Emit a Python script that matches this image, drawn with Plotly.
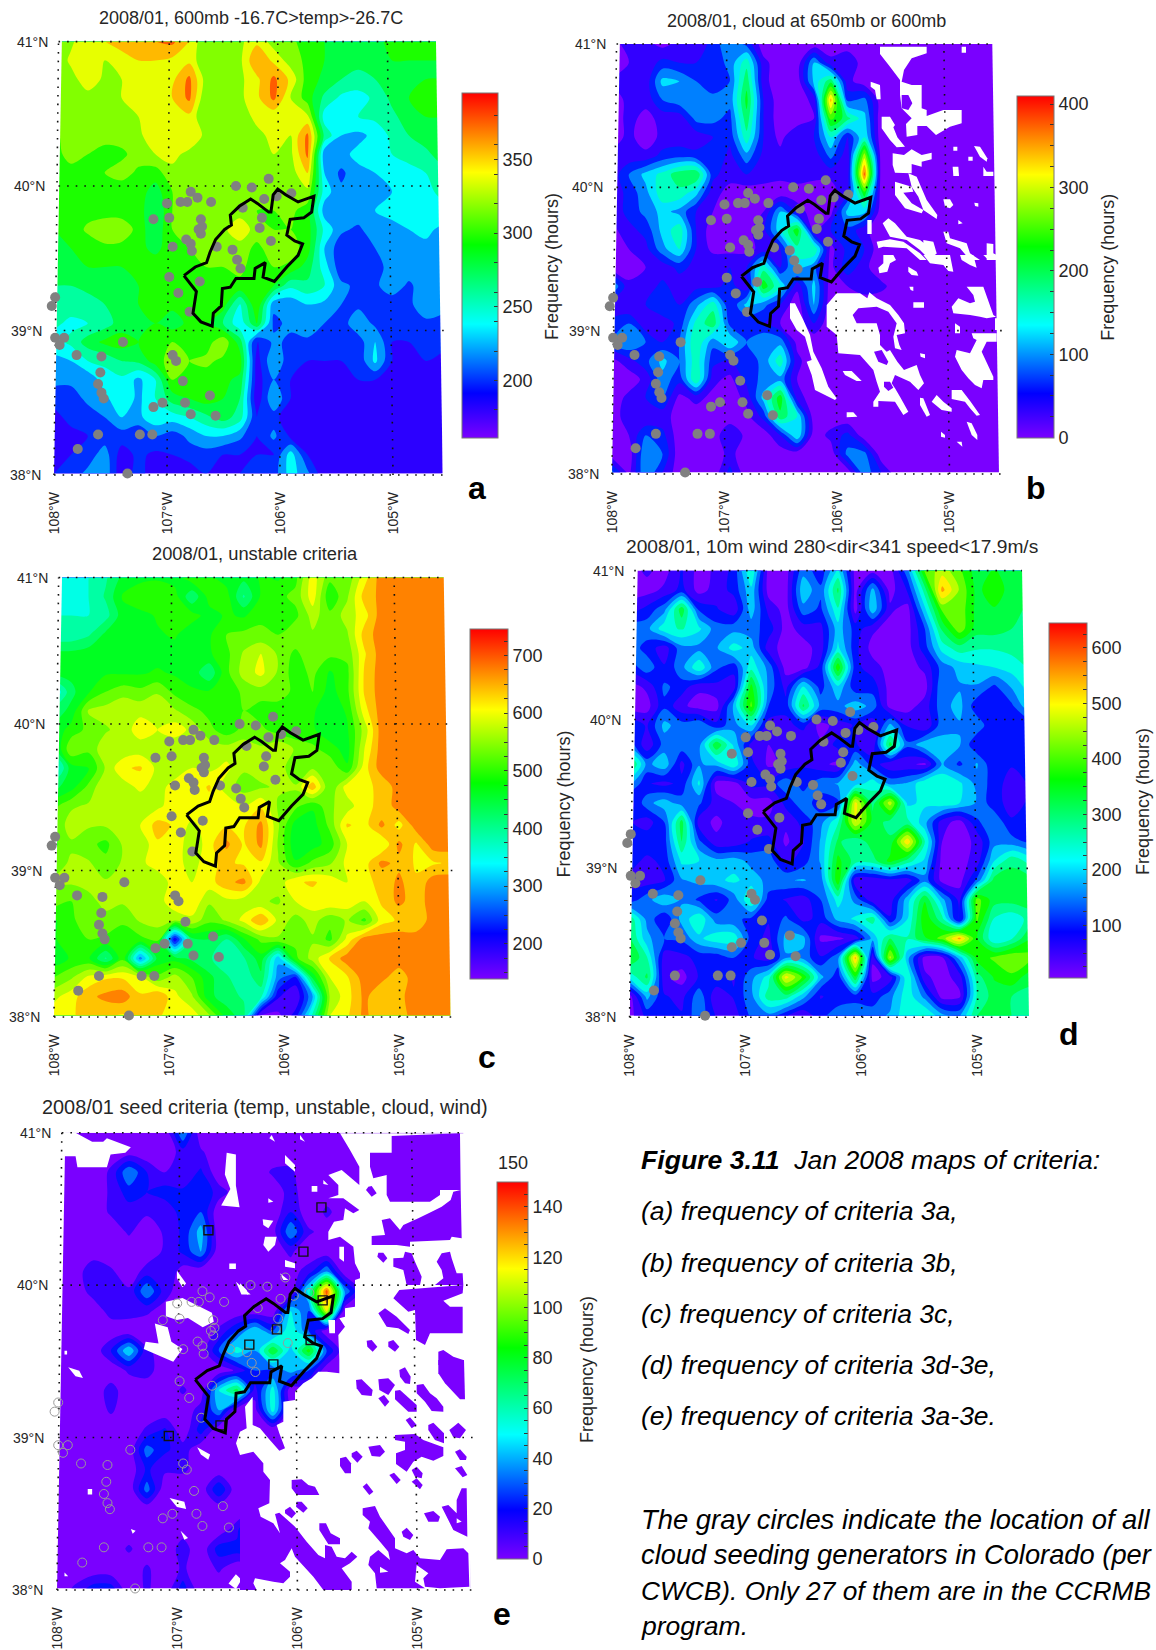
import numpy as np
import plotly.graph_objects as go

_ = 5   # cells with next to no hours; the white gaps are drawn from the patch lists below
FONT = "Liberation Sans"
W, H = 1156, 1650

# Generator sites (pseudo lon / lat)
GEN_LON = [-106.10,-106.39,-106.25,-106.79,-106.73,-106.61,-106.88,-106.82,-107.00,-106.14,-106.03,-105.90,-106.33,-106.16,-106.98,-107.12,-106.70,-106.69,-106.72,-106.70,-106.18,-106.08,-106.83,-106.79,-106.78,-106.95,-106.56,-106.42,-106.38,-106.35,-106.98,-106.71,-106.90,-106.80,-107.99,-108.02,-107.99,-107.91,-107.95,-107.39,-107.80,-107.58,-106.95,-106.92,-107.59,-106.86,-107.61,-107.58,-107.56,-106.62,-107.04,-107.12,-106.84,-106.79,-106.57,-107.61,-107.24,-107.13,-107.79,-107.35]
GEN_LAT = [40.05,40.00,39.99,39.96,39.92,39.89,39.89,39.89,39.88,39.91,39.93,39.95,39.85,39.78,39.78,39.77,39.77,39.72,39.70,39.67,39.71,39.62,39.63,39.60,39.55,39.58,39.58,39.56,39.49,39.43,39.37,39.34,39.26,39.13,39.23,39.17,38.95,38.95,38.90,38.92,38.83,38.82,38.83,38.79,38.71,38.65,38.63,38.57,38.53,38.55,38.50,38.47,38.50,38.42,38.41,38.28,38.28,38.28,38.18,38.01]

# Target-area outline
AREA_LON = [-106.85,-106.75,-106.65,-106.62,-106.57,-106.49,-106.43,-106.44,-106.36,-106.26,-106.20,-106.10,-106.08,-106.06,-106.02,-105.95,-105.84,-105.70,-105.72,-105.79,-105.91,-105.94,-105.87,-105.80,-105.84,-105.94,-106.05,-106.15,-106.13,-106.22,-106.23,-106.39,-106.44,-106.51,-106.52,-106.59,-106.60,-106.70,-106.77,-106.74,-106.85]
AREA_LAT = [39.38,39.44,39.47,39.54,39.63,39.70,39.73,39.80,39.86,39.91,39.88,39.82,39.82,39.94,39.98,39.94,39.89,39.93,39.82,39.78,39.77,39.66,39.62,39.60,39.52,39.44,39.34,39.37,39.47,39.43,39.36,39.36,39.30,39.29,39.17,39.12,39.03,39.06,39.12,39.27,39.38]

# Black squares in panel e
SQ_LON = [-105.80,-106.74,-105.95,-105.79,-106.17,-106.40,-105.89,-106.20,-106.64,-107.07]
SQ_LAT = [40.51,40.36,40.22,39.90,39.71,39.61,39.64,39.48,39.08,39.01]

# Grid end points
LON_TICKS = [-108,-107,-106,-105]
LON_TOP = [-107.96,-106.98,-106.02,-105.05]
LON_TEXT = ["108°W","107°W","106°W","105°W"]
LAT_TICKS = [38,39,40,41]
LAT_TEXT = ["38°N","39°N","40°N","41°N"]
LAT_LEFT = [-108.0,-107.99,-107.96,-107.96]
LAT_RIGHT = [-104.54,-104.52,-104.57,-104.62]
LAT_LABEL_LON = [-108.10,-108.09,-108.06,-108.035]

GRID_A = [
[310,325,350,350,355,365,370,375,350,310,320,325,345,320,315,300,290,290,275,285,295,295,295,295],
[310,335,345,330,345,350,350,345,345,310,325,325,370,345,320,305,290,285,275,280,290,290,290,290],
[310,320,345,325,330,345,345,345,375,320,325,325,345,375,345,300,285,270,265,270,285,290,290,290],
[310,320,320,325,330,345,345,350,375,310,325,325,345,375,330,300,265,245,240,255,275,290,295,295],
[310,320,320,320,320,330,345,345,345,310,320,320,335,335,350,335,240,250,250,255,265,280,290,290],
[305,320,320,320,320,325,345,345,345,325,325,325,325,335,330,375,265,230,225,235,255,270,280,285],
[300,320,310,300,305,320,330,335,325,325,325,325,325,330,325,375,215,225,235,245,250,255,265,280],
[295,300,305,310,320,305,300,325,325,325,320,320,320,320,320,350,230,205,225,230,240,245,250,265],
[295,295,295,295,295,300,280,310,325,320,320,320,320,325,320,325,240,215,215,225,230,235,245,255],
[295,295,300,300,295,300,270,310,320,320,320,320,310,310,315,300,220,215,225,230,235,240,245,245],
[290,295,315,325,330,300,275,310,320,310,325,345,320,310,310,300,245,215,205,225,225,230,235,225],
[285,290,295,305,300,295,285,300,310,315,320,320,305,320,320,300,230,195,210,210,225,225,225,225],
[280,285,290,290,290,295,300,300,310,310,310,315,300,310,305,280,240,195,205,200,220,225,225,225],
[270,270,280,290,285,290,305,295,300,300,300,305,310,290,255,265,250,215,205,205,225,205,225,225],
[270,260,255,270,285,290,300,295,295,300,300,245,310,215,215,230,225,210,205,205,195,205,225,215],
[255,245,250,260,280,285,290,280,295,295,270,235,290,205,215,225,210,200,225,205,205,205,205,205],
[240,255,280,295,300,290,300,310,300,300,325,280,185,215,205,205,205,200,200,230,190,190,195,195],
[225,230,250,255,270,275,300,320,310,315,305,300,180,230,195,190,190,190,195,235,190,190,190,185],
[215,215,215,240,245,225,250,310,300,300,295,285,180,210,190,190,180,190,190,190,170,180,185,185],
[200,200,215,225,245,225,250,280,290,300,290,270,175,230,190,180,170,175,185,185,185,180,180,180],
[180,200,200,210,230,225,245,240,250,265,280,260,190,200,170,175,170,190,175,185,185,180,180,180],
[170,180,190,200,200,190,210,200,215,230,230,215,190,215,185,170,175,180,180,170,180,180,180,180],
[180,190,200,220,180,195,185,190,200,200,190,190,190,190,240,190,170,180,180,180,170,180,180,180],
[190,200,215,225,175,200,175,190,175,190,190,190,195,200,240,215,175,180,180,180,175,180,180,180],
]

GRID_B = [
[20,40,40,20,40,40,70,120,80,10,10,10,10,10,10,10,_,_,_,10,10,10,10,10],
[30,30,40,70,60,60,70,100,170,40,10,10,120,40,60,10,_,_,10,10,10,10,10,10],
[30,40,40,130,120,90,70,90,200,40,10,10,130,200,40,10,_,10,_,10,10,10,10,10],
[10,40,40,90,110,110,100,100,220,60,10,10,40,340,80,100,10,_,_,10,10,10,10,10],
[10,40,20,40,40,100,100,80,200,60,10,10,30,250,190,130,_,10,_,_,_,10,10,10],
[10,40,10,40,40,40,60,70,170,60,20,60,60,150,60,150,_,_,_,10,10,10,10,10],
[40,40,40,70,80,70,90,50,110,50,40,60,40,100,40,290,10,_,_,10,10,10,_,10],
[40,90,130,160,200,210,70,40,60,40,40,50,40,40,40,370,10,_,_,10,_,10,_,_],
[40,70,110,170,170,130,40,20,10,20,10,10,10,10,60,230,10,10,_,_,10,_,10,10],
[40,70,100,130,110,60,30,20,20,30,120,50,10,20,130,130,10,_,_,_,10,10,10,10],
[20,50,70,130,170,60,10,10,20,50,140,230,30,60,80,40,_,_,_,_,_,10,10,10],
[10,30,50,110,150,60,20,20,20,40,60,170,180,20,70,60,_,10,_,_,_,_,_,10],
[20,10,30,40,70,50,60,60,60,170,60,130,100,20,80,40,_,10,10,10,_,_,10,10],
[120,40,40,70,40,50,50,70,40,230,150,40,130,10,30,50,40,10,10,10,10,10,_,10],
[40,30,60,90,60,110,170,60,130,100,60,_,120,_,_,_,_,10,_,10,10,_,_,10],
[70,90,40,40,70,160,200,80,60,60,30,_,60,_,10,10,_,_,10,10,10,_,_,_],
[90,120,90,60,90,180,100,150,90,120,110,20,_,_,_,_,_,_,10,10,10,_,10,10],
[20,50,80,130,90,170,70,60,70,100,170,40,_,10,_,_,10,_,10,10,10,10,_,_],
[10,10,40,110,70,180,40,20,70,100,110,30,_,20,10,_,_,_,_,10,10,10,_,_],
[10,40,60,90,20,40,20,10,40,130,230,50,_,_,10,10,_,10,_,_,_,_,_,10],
[10,50,30,40,20,10,10,10,20,70,200,150,10,10,_,10,10,10,_,_,10,_,10,10],
[10,30,90,70,10,20,10,60,20,10,60,150,10,40,70,10,10,10,10,10,10,_,10,10],
[10,10,120,90,10,30,10,40,10,10,10,10,10,10,100,100,10,10,10,10,10,10,10,10],
[100,20,120,60,10,10,10,70,10,10,10,10,10,10,10,110,60,10,10,10,10,10,10,10],
]

GRID_C = [
[390,390,390,420,470,480,490,480,520,500,480,470,500,490,520,620,540,540,620,690,690,690,690,690],
[390,390,390,430,500,530,520,510,430,510,510,420,500,520,540,620,500,560,650,680,690,690,690,690],
[390,390,390,410,480,480,500,510,510,480,500,490,520,500,520,580,540,580,620,690,690,690,690,690],
[400,400,420,470,490,490,490,500,470,490,530,540,540,530,560,560,530,560,650,690,690,690,690,690],
[470,470,480,490,490,480,480,480,480,490,520,570,600,560,520,560,540,540,630,690,690,690,690,690],
[470,470,470,490,490,490,500,490,480,430,520,580,610,560,510,540,490,520,640,690,690,690,690,690],
[350,450,490,530,550,540,560,520,500,500,500,540,550,550,520,530,480,520,640,690,690,690,690,690],
[440,470,570,580,600,590,600,570,540,520,500,530,510,510,500,500,470,500,620,690,690,690,690,690],
[470,510,540,560,580,620,600,620,590,540,510,540,540,510,500,500,470,490,580,690,690,690,690,690],
[450,560,540,590,570,580,570,570,570,590,580,590,570,600,560,540,510,480,600,690,690,690,690,690],
[350,480,490,570,630,640,590,570,600,590,610,570,580,590,530,560,560,500,620,690,690,690,690,690],
[450,480,540,600,580,610,580,620,610,640,580,550,560,570,570,660,530,620,630,640,690,690,690,690],
[520,560,570,570,590,570,590,620,630,620,630,600,630,560,540,500,560,580,630,640,690,690,690,690],
[540,580,570,570,590,600,650,630,590,620,630,630,680,570,480,480,540,640,620,680,620,690,690,690],
[520,560,540,520,570,570,630,630,570,620,680,630,680,560,470,480,510,600,620,600,680,630,690,690],
[550,570,570,540,570,590,620,620,580,630,640,630,630,570,500,540,560,610,620,680,660,630,630,640],
[570,570,570,570,580,580,570,620,600,620,660,680,590,580,630,640,620,600,630,640,680,640,690,690],
[550,530,560,570,570,580,580,630,630,570,590,580,570,560,600,620,630,620,600,640,680,650,690,690],
[490,520,560,560,540,570,580,570,590,540,570,610,670,590,550,580,540,570,520,620,640,640,690,690],
[490,520,530,520,500,520,540,220,450,460,420,490,540,560,540,560,520,610,690,690,690,690,690,690],
[470,500,500,420,520,300,470,480,450,430,400,420,480,330,520,580,640,690,690,690,690,690,690,690],
[530,560,610,630,630,610,540,580,530,470,430,400,450,300,240,470,600,630,690,680,650,690,690,690],
[590,620,660,680,690,640,670,610,570,470,440,420,400,220,180,320,570,620,680,640,660,690,690,690],
[620,630,650,640,630,640,640,620,620,570,480,440,170,170,230,400,600,630,680,640,650,690,690,690],
]

GRID_D = [
[30,60,30,100,30,60,110,280,30,30,170,110,240,30,30,30,170,420,480,420,340,370,340,320],
[30,30,60,110,30,70,110,220,30,30,220,150,330,30,200,30,100,300,560,450,350,400,340,330],
[70,110,170,350,130,100,60,210,80,30,170,130,270,30,220,60,30,220,420,440,350,360,340,310],
[170,170,260,280,240,160,170,160,120,30,70,80,210,120,60,30,30,140,330,440,340,340,320,310],
[170,120,70,170,170,180,250,210,70,30,30,70,240,110,30,30,30,120,250,300,280,280,290,300],
[110,170,100,170,270,150,110,260,170,30,30,110,400,110,70,30,30,60,160,200,220,230,250,280],
[30,60,150,120,60,80,70,380,170,80,240,120,220,110,120,30,30,30,180,180,180,130,190,250],
[30,30,130,60,30,30,200,420,140,110,330,170,170,210,170,30,30,70,170,200,110,100,130,220],
[130,90,200,160,180,110,170,230,70,80,110,30,70,100,50,200,90,50,170,180,170,100,100,110],
[170,60,160,170,170,360,220,80,50,70,50,60,110,100,60,340,150,220,200,190,100,100,100,110],
[350,170,220,80,180,200,270,110,40,60,90,60,40,210,120,60,60,40,190,130,190,100,100,100],
[200,100,80,110,240,30,30,110,110,170,120,170,190,200,260,170,190,270,270,240,170,120,70,100],
[70,170,210,160,150,70,50,30,30,110,170,110,130,520,300,480,220,240,260,230,180,110,80,100],
[100,70,140,340,70,40,70,60,60,60,110,170,270,500,350,300,290,200,70,30,130,180,100,100],
[90,130,120,320,150,60,60,100,110,40,90,190,330,280,350,330,540,280,50,30,60,170,160,130],
[120,80,110,240,230,200,210,170,170,80,120,190,380,300,300,380,300,220,30,30,70,230,310,260],
[80,70,90,180,200,220,240,210,170,180,190,160,400,60,60,80,70,170,30,30,150,340,340,340],
[110,170,220,180,130,90,160,280,120,90,70,140,250,170,60,70,210,360,200,80,430,340,340,350],
[310,170,100,200,270,160,150,130,100,150,80,110,200,240,300,100,230,400,290,70,420,270,240,290],
[330,200,140,150,220,260,260,120,80,200,200,40,40,70,200,320,280,360,430,560,370,230,270,360],
[370,280,70,80,110,110,140,100,70,180,170,100,170,560,60,470,200,30,40,200,380,420,450,430],
[240,330,60,30,100,130,90,170,250,520,400,200,110,360,30,70,270,60,30,70,300,370,400,340],
[30,200,100,80,170,60,100,170,300,300,200,90,120,120,110,170,260,170,30,40,280,340,320,300],
[30,110,100,100,170,90,70,150,170,100,50,130,160,180,170,190,270,280,200,180,320,340,320,280],
]

GRID_E = [
[_,2,2,2,2,2,2,40,2,2,2,2,2,2,2,2,_,_,_,2,2,_,2,_],
[_,_,2,_,_,2,2,15,12,2,_,2,2,_,2,2,_,_,_,2,2,2,2,_],
[2,2,2,12,40,20,10,12,22,2,_,2,12,12,2,_,_,_,2,2,2,2,2,_],
[2,2,2,12,25,20,25,22,30,15,_,2,2,15,2,_,_,_,_,2,2,2,2,_],
[2,2,2,12,15,12,12,25,30,2,_,2,2,20,2,12,_,_,_,_,_,_,_,_],
[2,2,2,2,12,2,12,22,45,2,2,2,_,40,12,_,2,_,2,2,2,2,2,_],
[2,2,2,2,2,2,12,22,40,2,2,2,_,12,2,2,_,_,_,2,2,2,2,_],
[2,2,20,12,2,15,20,_,2,2,2,2,_,_,15,40,2,_,_,2,_,2,_,_],
[2,2,15,12,12,40,15,2,2,2,_,2,2,2,55,135,40,_,_,_,_,2,2,_],
[2,2,2,15,15,12,_,_,_,2,2,2,2,50,30,110,2,_,_,2,2,2,_,_],
[12,2,2,2,2,2,_,2,2,12,30,50,30,60,30,2,_,_,2,2,2,2,_,_],
[2,2,2,20,50,12,_,2,2,30,55,40,80,45,85,30,2,_,_,_,2,2,_,_],
[2,_,2,2,12,15,2,2,2,2,12,30,30,45,30,2,2,_,_,2,_,_,2,_],
[2,2,2,15,2,2,2,12,2,50,75,15,55,2,_,_,_,2,2,_,2,2,2,_],
[2,2,2,12,2,2,2,2,15,40,2,_,55,2,_,_,_,_,2,_,2,2,_,_],
[10,2,2,2,2,12,22,2,25,2,_,_,2,_,_,_,_,_,_,_,2,_,_,2],
[2,2,2,2,2,35,22,15,2,2,2,_,2,_,_,_,_,_,2,_,2,2,_,_],
[2,2,2,2,2,22,12,12,_,2,2,2,_,_,_,_,2,_,_,_,2,_,_,2],
[2,2,_,2,2,35,2,2,2,30,2,2,_,2,2,_,_,_,_,_,_,_,_,2],
[2,2,2,2,2,2,2,_,2,2,2,_,_,2,_,_,_,2,_,_,_,2,_,2],
[2,2,2,2,2,2,2,_,2,2,15,60,30,_,2,_,_,_,2,_,_,_,2,2],
[2,2,2,2,12,2,2,15,2,25,25,30,12,2,2,2,_,2,2,2,_,_,2,2],
[2,2,2,2,2,12,2,12,2,12,2,2,2,2,2,2,_,2,2,2,2,2,2,2],
[2,12,25,25,2,12,2,25,2,2,_,2,2,2,2,2,_,_,2,2,_,2,2,2],
]

GRID_LON = np.linspace(-108, -104.56, 24)
GRID_LAT = np.linspace(38.01, 41.0, 24)

# No-data patches, outlines read from reference crops: (crop x, crop y) in the frame named
FRAMES = {"b1": (780, 40, 1/3, 1/3), "b2": (780, 255, 1/3, 1/3), "e3": (240, 1130, 1/3, 1/3), "e4": (240, 1360, 1/3, 1/3), "e5": (0, 1080, 0.3686, 0.3635)}
WHITE = "#ffffff"
VIOLET = "#7a00ff"

GAPS_B1 = [
 [(300,20),(440,20),(440,40),(395,55),(372,90),(365,125),(395,135),(425,135),(425,205),(440,210),(440,228),(490,210),(545,210),(545,250),(510,260),(468,285),(440,258),(412,258),(412,285),(380,290),(378,252),(395,235),(365,205),(360,165),(360,120),(330,80),(300,42)],
 [(272,125),(300,135),(302,178),(290,178),(285,150),(272,140)],
 [(305,230),(330,230),(345,255),(340,262),(352,292),(375,320),(350,322),(330,300),(305,265)],
 [(338,340),(372,345),(395,328),(425,345),(455,338),(455,358),(425,365),(425,380),(395,372),(395,400),(345,398),(338,375)],
 [(385,400),(410,410),(440,480),(472,525),(470,537),(430,510),(415,470),(395,440)],
 [(345,425),(395,440),(400,455),(370,458),(395,490),(430,510),(425,520),(375,505),(345,465)],
 [(545,20),(558,20),(558,38),(545,38)],
 [(520,320),(532,320),(532,332),(520,332)],
 [(565,350),(578,350),(578,362),(565,362)],
 [(582,318),(600,320),(622,355),(620,365),(600,350)],
 [(518,380),(535,380),(537,408),(520,408)],
 [(610,380),(620,395),(640,395),(640,408),(610,408)],
 [(490,478),(510,478),(520,495),(510,505),(495,500)],
 [(583,488),(595,490),(595,500),(585,498)],
 [(262,540),(275,540),(275,582),(262,582)],
 [(535,540),(548,550),(535,553)],
 [(308,550),(325,535),(345,550),(380,590),(420,600),(470,640),(450,660),(420,630),(380,600),(330,590)],
 [(290,605),(330,598),(370,605),(420,640),(440,660),(420,660),(380,625),(310,620),(295,625)],
 [(430,600),(460,605),(470,640),(455,650),(430,620)],
 [(490,575),(505,575),(510,595),(560,610),(570,640),(600,660),(570,660),(540,625),(500,610)],
 [(620,610),(640,612),(640,640),(660,650),(660,660),(620,660)],
]
GAPS_B2 = [
 [(310,0),(340,0),(348,15),(330,25),(322,50),(298,55),(295,38),(310,25)],
 [(385,35),(410,50),(415,62),(395,60),(385,50)],
 [(430,0),(510,0),(520,50),(505,48),(490,30),(450,25)],
 [(540,0),(580,0),(590,38),(570,30),(545,15)],
 [(610,0),(640,0),(640,10),(620,10)],
 [(388,95),(400,95),(400,108),(392,105)],
 [(170,115),(240,115),(262,130),(268,112),(290,130),(330,150),(355,180),(372,205),(375,235),(350,240),(358,270),(365,285),(345,280),(340,245),(350,205),(325,170),(290,155),(235,160),(218,180),(230,205),(290,205),(300,240),(300,270),(320,290),(330,285),(352,320),(372,345),(410,330),(420,360),(432,385),(415,405),(390,380),(345,360),(335,385),(345,400),(360,425),(385,470),(370,480),(345,440),(295,438),(295,455),(280,455),(280,440),(300,410),(290,380),(280,345),(240,300),(175,295),(170,240),(140,215),(140,150)],
 [(30,145),(45,145),(70,195),(90,240),(100,290),(125,340),(145,395),(170,430),(165,435),(135,420),(105,405),(95,360),(80,320),(95,315),(75,245),(50,225),(30,190)],
 [(188,348),(215,348),(245,378),(230,378),(195,360)],
 [(400,142),(432,142),(432,158),(400,158)],
 [(560,95),(610,95),(640,180),(648,185),(620,190),(600,185),(570,180),(520,175),(515,155),(535,130),(570,145),(585,140),(580,120)],
 [(525,205),(540,215),(540,235),(525,235)],
 [(575,235),(650,235),(650,260),(620,260),(605,290),(640,365),(640,375),(610,375),(605,400),(585,390),(565,370),(545,345),(525,305),(530,285),(570,295),(590,255),(580,250)],
 [(645,190),(660,190),(660,225),(645,225)],
 [(420,295),(435,298),(435,310),(422,305)],
 [(420,428),(430,430),(450,480),(440,485),(420,450)],
 [(470,420),(490,440),(515,460),(515,470),(485,465),(455,440)],
 [(515,405),(545,405),(572,440),(600,480),(590,482),(570,460),(555,440),(515,432)],
 [(200,472),(220,472),(232,485),(200,487)],
 [(560,500),(575,505),(592,540),(592,555),(575,540)],
 [(483,530),(495,540),(495,548),(483,545)],
 [(530,560),(545,560),(547,575)],
]
ISLES_B1 = [[(365,165),(385,165),(397,190),(385,210),(365,205)]]
ISLES_B2 = [
 [(282,290),(305,285),(325,320),(320,330),(295,320)],
 [(218,300),(235,300),(245,322),(230,332),(218,320)],
 [(312,380),(330,380),(340,398),(325,408),(312,395)],
]

GAPS_E3 = [
 [(300,10),(330,60),(358,110),(358,165),(305,120),(265,135),(295,165),(295,195),(265,205),(310,205),(358,240),(340,250),(315,235),(310,270),(282,275),(265,305),(265,330),(300,320),(340,350),(345,400),(360,430),(360,445),(345,450),(345,530),(315,535),(315,560),(298,565),(315,590),(295,615),(298,690),(298,730),(260,725),(235,725),(215,745),(190,760),(165,785),(165,810),(130,815),(130,875),(110,885),(118,910),(135,955),(118,962),(85,925),(60,895),(38,885),(38,800),(15,830),(20,895),(0,905),(-12,940),(0,975),(0,1380),(690,1380),(690,10)],
 [(135,75),(165,105),(165,125),(135,100)],
 [(85,205),(100,215),(85,218)],
 [(68,268),(100,272),(85,295),(70,285)],
 [(75,320),(110,320),(105,345),(85,365),(70,345)],
 [(215,168),(232,168),(232,185),(215,185)],
 [(250,150),(265,165),(250,162)],
 [(135,390),(165,400),(165,415),(135,410)],
 [(120,430),(145,450),(130,450)],
 [(0,460),(20,480),(25,495),(0,480)],
 [(95,15),(105,35),(88,25)],
 [(180,15),(195,35),(180,28)],
 [(298,350),(312,350),(312,395),(298,385)],
 [(265,570),(285,570),(285,610),(268,610)],
]
GAPS_E5 = [
 [(165,145),(205,145),(250,170),(280,170),(290,160),(355,185),(340,200),(300,205),(290,240),(210,240),(205,210),(175,210)],
 [(238,1125),(250,1125),(250,1140),(238,1140)],
 [(175,745),(182,745),(182,755),(175,755)],
 [(185,790),(215,800),(225,820),(205,815)],
 [(175,1355),(185,1365),(175,1365)],
 [(355,1235),(368,1240),(360,1248)],
 [(490,1240),(510,1260),(500,1265)],
 [(450,610),(495,600),(575,640),(580,665),(550,680),(510,655),(480,660),(450,650)],
 [(420,670),(455,680),(465,720),(495,740),(470,775),(390,740),(395,720),(430,725)],
 [(480,525),(505,560),(495,570),(480,545)],
 [(460,1150),(500,1160),(505,1180),(480,1175)],
 [(535,1010),(570,1030),(565,1045),(545,1030)],
 [(615,200),(640,205),(640,290),(650,350),(600,345),(625,300),(610,260)],
 [(640,555),(680,590),(655,590)],
 [(622,505),(640,505),(640,520),(622,520)],
 [(620,1385),(640,1360),(655,1375),(640,1400)],
]
ISLES_E3 = [
 [(455,18),(660,10),(662,180),(600,180),(600,195),(570,215),(450,215),(440,195),(440,135),(400,145),(390,110),(390,68),(455,68)],
 [(640,185),(662,180),(665,325),(635,320),(630,330),(510,335),(510,350),(470,345),(395,345),(395,318),(435,315),(425,270),(450,265),(480,300),(490,285),(535,265),(575,245),(605,230),(632,210)],
 [(385,170),(395,168),(410,190),(395,200),(378,180)],
 [(415,368),(430,368),(442,385),(430,398),(412,380)],
 [(460,385),(490,383),(495,365),(515,370),(525,395),(545,440),(540,465),(670,465),(668,430),(650,430),(635,385),(630,365),(605,370),(590,395),(605,420),(610,445),(585,465),(500,465),(490,420),(460,410)],
 [(478,480),(670,465),(668,490),(610,512),(630,530),(668,530),(668,610),(570,610),(555,645),(528,630),(525,540),(505,545),(460,505)],
 [(415,550),(435,535),(470,560),(510,600),(505,612),(475,595),(440,590)],
 [(380,632),(395,630),(412,650),(398,665),(382,650)],
 [(445,635),(460,630),(478,650),(465,665),(445,650)],
 [(595,665),(610,660),(640,680),(670,690),(670,705),(595,705)],
]
ISLES_E4 = [
 [(0,285),(40,275),(70,310),(70,335),(90,360),(88,430),(55,445),(62,470),(100,490),(120,520),(105,462),(118,458),(165,500),(200,545),(235,585),(255,595),(255,555),(275,560),(290,590),(315,595),(335,575),(352,590),(330,610),(305,625),(335,665),(335,690),(250,690),(220,650),(165,590),(155,565),(135,600),(120,610),(150,635),(150,650),(130,670),(100,665),(45,655),(40,670),(50,690),(0,690)],
 [(155,360),(185,358),(205,375),(225,380),(238,405),(170,405),(155,385)],
 [(170,425),(185,425),(203,445),(190,458),(168,440)],
 [(135,450),(150,440),(168,460),(155,475),(135,460)],
 [(238,490),(258,490),(272,520),(300,535),(300,553),(265,553),(238,510)],
 [(300,295),(318,290),(333,310),(333,340),(315,340),(300,318)],
 [(335,280),(350,272),(368,290),(352,308),(335,290)],
 [(385,260),(420,255),(435,275),(420,290),(395,288)],
 [(348,60),(365,58),(398,90),(395,108),(365,105),(350,85)],
 [(415,58),(445,55),(465,75),(445,105),(418,90)],
 [(415,115),(432,105),(448,125),(435,140)],
 [(478,30),(495,22),(512,50),(510,72),(495,70),(480,50)],
 [(465,92),(480,90),(530,135),(530,155),(505,155),(465,118)],
 [(530,75),(550,72),(570,100),(590,115),(610,140),(610,155),(575,153),(555,125),(530,100)],
 [(595,0),(672,0),(675,118),(660,118),(615,70),(595,40)],
 [(497,180),(510,172),(530,195),(515,205)],
 [(565,195),(580,188),(612,220),(612,250),(585,240),(565,210)],
 [(628,210),(655,188),(678,210),(660,235),(640,232)],
 [(465,225),(525,222),(550,240),(610,262),(610,288),(580,302),(545,290),(520,305),(500,335),(468,312),(468,280),(495,270),(495,245),(465,240)],
 [(645,275),(660,268),(680,290),(678,300),(660,300)],
 [(645,325),(665,318),(682,345),(668,352)],
 [(448,345),(462,338),(482,360),(470,372)],
 [(368,380),(380,370),(400,395),(388,405)],
 [(515,330),(530,320),(548,340),(545,355),(525,350)],
 [(515,365),(530,355),(548,375),(540,388)],
 [(368,445),(405,438),(420,470),(465,535),(465,565),(500,580),(520,570),(540,595),(600,600),(620,568),(670,565),(685,580),(688,680),(600,685),(555,680),(550,655),(565,640),(530,615),(525,665),(555,685),(410,685),(405,640),(385,615),(390,590),(415,570),(450,600),(445,575),(420,545),(385,505),(390,485),(368,465)],
 [(485,515),(500,503),(520,525),(510,540),(490,530)],
 [(552,460),(580,453),(600,470),(595,485),(565,485)],
 [(605,440),(625,435),(650,460),(650,420),(665,385),(680,385),(682,530),(660,520),(640,510)],
]
HOLES_E4 = [
 [(420,620),(445,635),(420,638)],
 [(650,475),(665,485),(650,490)],
]

PATCHES_B = [("b1",WHITE,GAPS_B1),("b2",WHITE,GAPS_B2),("b1",VIOLET,ISLES_B1),("b2",VIOLET,ISLES_B2)]
PATCHES_E = [("e3",WHITE,GAPS_E3),("e5",WHITE,GAPS_E5),("e3",VIOLET,ISLES_E3),("e4",VIOLET,ISLES_E4),("e4",WHITE,HOLES_E4)]

RAINBOW = [[0,"#7a00ff"],[0.13,"#0000ff"],[0.33,"#00ffff"],[0.56,"#00ff00"],[0.77,"#ffff00"],[1,"#ff0000"]]

PANELS = [
 dict(grid=GRID_A, x108=54, ppd=113, y41=41.6, y38=475, title="2008/01, 600mb -16.7C>temp>-26.7C", tx=250.6, ty=18, tsize=18,
      start=170, end=390, size=20, zr=(161,395), bar=(462,498,93,438), major=[200,250,300,350], minor=20, letter="a", lx=476.6, ly=488, fx=552, fy=267, patches=[]),
 dict(grid=GRID_B, x108=612, ppd=112.5, y41=44, y38=474, title="2008/01, cloud at 650mb or 600mb", tx=806.5, ty=21, tsize=18,
      start=30, end=400, size=30, zr=(0,410), bar=(1017,1053.5,95.7,437.7), major=[0,100,200,300,400], minor=25, letter="b", lx=1036, ly=488, fx=1107.7, fy=267, patches=PATCHES_B),
 dict(grid=GRID_C, x108=54, ppd=115.3, y41=577.5, y38=1017, title="2008/01, unstable criteria", tx=255.4, ty=553.4, tsize=18.3,
      start=180, end=740, size=35, zr=(139,746), bar=(470,507.6,629,979.4), major=[200,300,400,500,600,700], minor=25, letter="c", lx=486.5, ly=1057, fx=563, fy=804.5, patches=[]),
 dict(grid=GRID_D, x108=629.6, ppd=116.1, y41=570.6, y38=1017.3, title="2008/01, 10m wind 280<dir<341 speed<17.9m/s", tx=831.6, ty=546.5, tsize=19.2,
      start=50, end=635, size=45, zr=(5,645), bar=(1049,1086.7,623,978.4), major=[100,200,300,400,500,600], minor=25, letter="d", lx=1069, ly=1033.5, fx=1143, fy=802, patches=[]),
 dict(grid=GRID_E, x108=57, ppd=120.2, y41=1132.7, y38=1590, title="2008/01 seed criteria (temp, unstable, cloud, wind)", tx=264.7, ty=1106.5, tsize=19.9,
      start=10, end=140, size=10, zr=(0,150), bar=(496.5,527.8,1181.8,1558.7), major=[0,20,40,60,80,100,120,140], minor=5, letter="e", lx=502.4, ly=1614, fx=587, fy=1370, patches=PATCHES_E),
]

CAPTION = [
 ("<b><i>Figure 3.11</i></b>  <i>Jan 2008 maps of criteria:</i>", 1160, 26.6),
 ("<i>(a) frequency of criteria 3a,</i>", 1211, 26.5),
 ("<i>(b) frequency of criteria 3b,</i>", 1262.6, 26.5),
 ("<i>(c) frequency of criteria 3c,</i>", 1314, 26.5),
 ("<i>(d) frequency of criteria 3d-3e,</i>", 1365, 26.5),
 ("<i>(e) frequency of criteria 3a-3e.</i>", 1416.4, 26.5),
 ("<i>The gray circles indicate the location of all</i>", 1519.5, 27.4),
 ("<i>cloud seeding generators in Colorado (per</i>", 1554, 27.3),
 ("<i>CWCB). Only 27 of them are in the CCRMB</i>", 1590.5, 26.3),
 ("<i>program.</i>", 1626, 26.5),
]

fig = go.Figure()
annotations = []
TEXT = "#262626"

def note(text, px, py, size, **kw):
    annotations.append(dict(text=text, x=px/W, y=1-py/H, xref="paper", yref="paper", showarrow=False,
                            font=dict(family=FONT, size=size, color=kw.pop("color", TEXT)),
                            xanchor=kw.pop("xanchor", "center"), yanchor="middle", **kw))

LEFT, RIGHT = -108.1, -104.45
BOT, TOP = 37.97, 41.03

for n, p in enumerate(PANELS, start=1):
    suffix = "" if n == 1 else str(n)
    xa, ya = "x"+suffix, "y"+suffix
    ppy = (p["y38"]-p["y41"])/3
    x0 = p["x108"]+(LEFT+108)*p["ppd"]
    x1 = p["x108"]+(RIGHT+108)*p["ppd"]
    y0 = p["y38"]+(38-BOT)*ppy
    y1 = p["y41"]-(TOP-41)*ppy
    fig.update_layout({
        "xaxis"+suffix: dict(domain=[x0/W, x1/W], range=[LEFT, RIGHT], anchor=ya, showgrid=False, zeroline=False,
                             showline=False, tickvals=LON_TICKS, ticktext=LON_TEXT, tickangle=-90, ticks="",
                             ticklabelstandoff=9, tickfont=dict(family=FONT, size=14, color=TEXT)),
        "yaxis"+suffix: dict(domain=[1-y0/H, 1-y1/H], range=[BOT, TOP], anchor=xa, showgrid=False, zeroline=False,
                             showline=False, showticklabels=False, ticks=""),
    })
    fig.add_trace(go.Contour(x=GRID_LON, y=GRID_LAT, z=p["grid"][::-1], xaxis=xa, yaxis=ya, colorscale=RAINBOW,
                             autocontour=False, contours=dict(coloring="fill", start=p["start"], end=p["end"], size=p["size"], showlines=False),
                             line=dict(width=0, smoothing=0.9), showscale=False, hoverinfo="skip"))
    # off-range trace that carries the continuous colour bar
    lo, hi = p["zr"]
    step = p["minor"]
    tv = [v for v in range(int(np.ceil(lo/step))*step, hi+1, step)]
    for m in p["major"]:
        if m not in tv:
            tv.append(m)
    tv.sort()
    tt = [str(v) if v in p["major"] else "" for v in tv]
    bx0, bx1, by0, by1 = p["bar"]
    fig.add_trace(go.Heatmap(x=[-130,-129], y=[10], z=[[lo, hi]], xaxis=xa, yaxis=ya, colorscale=RAINBOW, zmin=lo, zmax=hi,
                             hoverinfo="skip",
                             colorbar=dict(x=bx0/W, xanchor="left", y=1-by0/H, yanchor="top", xpad=0, ypad=0,
                                           thickness=bx1-bx0, thicknessmode="pixels", len=by1-by0, lenmode="pixels",
                                           outlinecolor="#777777", outlinewidth=1, borderwidth=0,
                                           tickvals=tv, ticktext=tt, ticks="inside", ticklen=4, tickcolor="#333333",
                                           tickfont=dict(family=FONT, size=18, color=TEXT))))
    # white masks for the map's slanted sides
    fig.add_trace(go.Scatter(x=[-108.03,-108.03,-107.93,-108.0], y=[38,41.02,41.02,38], xaxis=xa, yaxis=ya, mode="none",
                             fill="toself", fillcolor="white", hoverinfo="skip", showlegend=False))
    fig.add_trace(go.Scatter(x=[-104.53,-104.53,-104.62,-104.56], y=[38,41.02,41.02,38], xaxis=xa, yaxis=ya, mode="none",
                             fill="toself", fillcolor="white", hoverinfo="skip", showlegend=False))
    # no-data gaps and the islands inside them, in paint order
    for frame, colour, polys in p["patches"]:
        ox, oy, sx, sy = FRAMES[frame]
        for poly in polys:
            lons = [(ox+cx*sx-p["x108"])/p["ppd"]-108 for cx, cy in poly]
            lats = [41-(oy+cy*sy-p["y41"])/ppy for cx, cy in poly]
            fig.add_trace(go.Scatter(x=lons+lons[:1], y=lats+lats[:1], xaxis=xa, yaxis=ya, mode="none", fill="toself",
                                     fillcolor=colour, hoverinfo="skip", showlegend=False))
    # dotted graticule
    dot = dict(color="#111111", width=1.6, dash="1.6px,7px")
    for bottom, top in zip(LON_TICKS, LON_TOP):
        fig.add_trace(go.Scatter(x=[bottom, top], y=[38, 41], xaxis=xa, yaxis=ya, mode="lines", line=dot, hoverinfo="skip", showlegend=False))
    for lat, l, r in zip(LAT_TICKS, LAT_LEFT, LAT_RIGHT):
        fig.add_trace(go.Scatter(x=[l, r], y=[lat, lat], xaxis=xa, yaxis=ya, mode="lines", line=dot, hoverinfo="skip", showlegend=False))
    # generators
    if n < 5:
        mk = dict(size=10, color="#808080")
    else:
        mk = dict(size=9, color="rgba(0,0,0,0)", line=dict(color="#9a9a9a", width=1))
    fig.add_trace(go.Scatter(x=GEN_LON, y=GEN_LAT, xaxis=xa, yaxis=ya, mode="markers", marker=mk, cliponaxis=False,
                             hoverinfo="skip", showlegend=False))
    if n == 5:
        fig.add_trace(go.Scatter(x=SQ_LON, y=SQ_LAT, xaxis=xa, yaxis=ya, mode="markers", cliponaxis=False,
                                 marker=dict(symbol="square-open", size=9, color="#111111", line=dict(width=1.4)),
                                 hoverinfo="skip", showlegend=False))
    fig.add_trace(go.Scatter(x=AREA_LON, y=AREA_LAT, xaxis=xa, yaxis=ya, mode="lines", line=dict(color="black", width=3),
                             hoverinfo="skip", showlegend=False))
    # latitude labels
    for lat, lon, text in zip(LAT_TICKS, LAT_LABEL_LON, LAT_TEXT):
        annotations.append(dict(text=text, x=lon, y=lat, xref=xa, yref=ya, showarrow=False, xanchor="right", yanchor="middle",
                                font=dict(family=FONT, size=14, color=TEXT)))
    note(p["title"], p["tx"], p["ty"], p["tsize"])
    note("<b>"+p["letter"]+"</b>", p["lx"], p["ly"], 32, color="black")
    note("Frequency (hours)", p["fx"], p["fy"], 18, textangle=-90)

note("150", 513, 1163, 18)
for text, py, size in CAPTION:
    note(text, 639, py, size, xanchor="left", color="black")

fig.update_layout(width=W, height=H, margin=dict(l=0, r=0, t=0, b=0), paper_bgcolor="white", plot_bgcolor="white",
                  showlegend=False, annotations=annotations, font=dict(family=FONT))
fig.write_html("out.html", config={"displayModeBar": False},
               post_script="document.body.style.margin='0';document.body.style.overflow='hidden';")
